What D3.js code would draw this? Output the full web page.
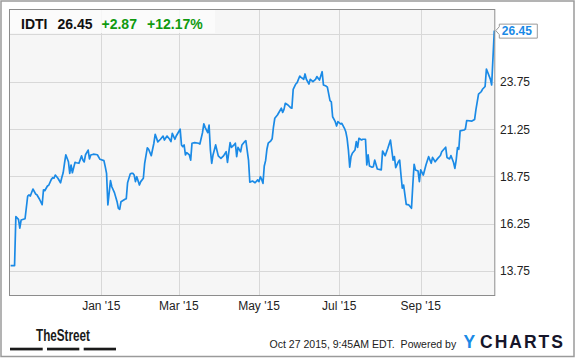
<!DOCTYPE html>
<html>
<head>
<meta charset="utf-8">
<script src="https://cdn.jsdelivr.net/npm/d3@7"></script>
<style>
  html, body { margin: 0; padding: 0; background: #fff; }
  svg { display: block; font-family: "Liberation Sans", Arial, sans-serif; }
</style>
</head>
<body>
<svg id="chart" width="575" height="358"></svg>
<script>
// ---- data (days since 2015-01-01, closing prices) ----
const days = [-69,-66,-65,-63,-62,-61,-58,-56,-55,-54,-52,-50,-49,-47,-45,-44,-43,-41,-40,-38,-37,-36,-35,-33,-31,-30,-29,-28,-27,-25,-24,-23,-22,-20,-19,-17,-15,-14,-13,-12,-10,-9,-8,-6,-3,-1,
  2,3,4,5,7,8,10,12,13,14,15,18,19,20,22,23,24,25,26,27,29,30,32,33,35,36,38,40,41,43,45,47,48,50,52,53,54,56,57,60,61,62,63,64,65,67,68,69,71,74,75,77,78,79,81,82,83,84,85,87,89,91,93,95,96,98,99,
  101,102,103,104,106,107,109,110,112,113,115,117,119,120,121,122,123,124,125,126,127,129,130,131,132,134,135,137,138,139,140,142,144,145,146,148,149,151,152,154,155,156,158,159,161,163,164,166,168,169,171,172,174,175,176,178,179,180,182,183,185,186,187,188,189,190,191,193,194,195,196,198,199,
  201,202,203,204,206,207,208,210,213,214,216,218,220,222,223,224,226,227,228,229,230,232,234,236,237,238,239,241,242,243,245,247,249,251,252,254,256,258,259,262,263,265,266,268,269,270,271,272,273,276,277,278,282,284,285,287,289,290,292,293,296,297,299];
const prices = [14.03,14.03,16.62,16.48,16.01,16.44,16.51,17.71,17.77,17.71,18.08,17.82,17.78,17.54,17.25,18.03,17.99,18.24,18.28,18.59,18.68,18.65,18.82,18.65,18.41,18.70,18.94,19.44,19.89,19.52,18.91,19.35,18.94,19.49,19.47,19.44,19.83,19.61,19.51,19.89,20.14,19.67,19.88,19.92,19.89,19.65,
  19.58,19.26,18.91,17.24,18.52,18.20,17.89,17.41,17.06,17.01,17.41,17.54,17.57,18.41,18.87,18.91,18.91,18.82,18.47,18.73,18.29,18.47,18.65,19.44,20.26,20.18,19.84,20.50,20.97,20.57,20.71,20.88,20.67,20.88,20.71,20.58,21.02,20.71,20.88,21.24,20.41,20.32,20.41,19.88,20.00,19.88,19.61,20.50,20.53,20.50,20.46,21.06,21.52,21.34,21.06,21.46,20.14,19.44,19.88,20.41,19.83,19.70,19.83,20.05,19.49,20.53,20.28,
  20.41,20.50,19.79,20.28,20.05,20.41,20.58,20.63,19.61,18.44,18.50,18.41,18.56,18.47,18.73,18.59,18.38,19.30,19.58,20.18,20.50,20.63,20.74,21.37,21.82,21.99,22.11,22.35,22.13,22.29,22.61,22.52,22.38,22.35,23.35,23.63,23.70,24.05,23.98,23.88,24.16,23.88,23.63,23.88,23.75,23.88,24.02,23.84,24.28,23.58,23.52,23.46,22.75,22.69,21.90,21.64,21.41,21.64,21.52,21.55,21.29,21.11,20.76,20.14,19.23,19.79,19.97,20.14,20.58,20.28,20.76,20.67,20.71,
  20.71,19.35,19.88,19.30,19.23,19.26,19.61,19.14,19.09,20.09,19.84,20.23,20.67,19.61,19.79,19.21,19.52,19.61,18.82,18.12,18.29,17.27,17.24,17.06,18.29,19.39,19.09,19.03,18.47,19.09,18.82,19.35,19.79,19.44,19.75,19.52,19.70,19.85,20.05,20.29,19.75,19.67,19.85,19.48,19.17,19.61,20.27,20.18,21.15,21.20,21.25,21.70,21.67,21.75,22.26,23.09,23.22,23.35,23.50,24.42,23.89,23.58,26.45];

const xTickDates = ["2015-01-01","2015-03-01","2015-05-01","2015-07-01","2015-09-01"];
const xTickLabels = ["Jan '15","Mar '15","May '15","Jul '15","Sep '15"];
const yTicks = [13.75, 16.25, 18.75, 21.25, 23.75, 26.25];
const ticker = "IDTI";
const lastPrice = "26.45";
const change = "+2.87";
const changePct = "+12.17%";
const stamp = "Oct 27 2015, 9:45AM EDT.  Powered by";

// ---- layout ----
const svg = d3.select("#chart");
const P = { left: 10, right: 494.3, top: 10, bottom: 295 };
const base = new Date(2015, 0, 1);
const toDate = d => d3.timeHour.offset(base, Math.round(d * 24));
const parse = d3.timeParse("%Y-%m-%d");

const x = d3.scaleTime()
  .domain([toDate(-69.46), toDate(299)])
  .range([P.left, P.right]);
const y = d3.scaleLinear()
  .domain([12.48, 27.54])
  .range([P.bottom, P.top]);

const data = days.map((d, i) => ({ date: toDate(d), v: prices[i] }));

// outer frame
svg.append("rect").attr("x", 1).attr("y", 1).attr("width", 573).attr("height", 355.5)
  .attr("fill", "#fff").attr("stroke", "#9a9a9a").attr("stroke-width", 1.5);

// plot background
svg.append("rect").attr("x", P.left).attr("y", P.top)
  .attr("width", P.right - P.left).attr("height", P.bottom - P.top)
  .attr("fill", "#f6f6f6");

// gridlines
const grid = svg.append("g").attr("stroke", "#d8d8d8").attr("stroke-width", 1);
yTicks.forEach(t => {
  const yy = Math.round(y(t)) + 0.5;
  grid.append("line").attr("x1", P.left).attr("x2", P.right).attr("y1", yy).attr("y2", yy);
});
xTickDates.forEach(t => {
  const xx = Math.round(x(parse(t))) + 0.5;
  grid.append("line").attr("x1", xx).attr("x2", xx).attr("y1", P.top).attr("y2", P.bottom);
});

// header box
svg.append("rect").attr("x", P.left).attr("y", P.top).attr("width", 205).attr("height", 23)
  .attr("fill", "#fbfbfb").attr("fill-opacity", 0.85);
const hdr = svg.append("text").attr("y", 28.5).attr("font-size", 14).attr("font-weight", "bold");
hdr.append("tspan").attr("x", 21).attr("fill", "#111").text(ticker);
hdr.append("tspan").attr("x", 57.5).attr("fill", "#111").text(lastPrice);
hdr.append("tspan").attr("x", 101.5).attr("fill", "#109a10").text(change);
hdr.append("tspan").attr("x", 147).attr("fill", "#109a10").text(changePct);

// price line
const line = d3.line().x(d => x(d.date)).y(d => y(d.v));
svg.append("path").datum(data).attr("d", line)
  .attr("fill", "none").attr("stroke", "#1a8ae6").attr("stroke-width", 1.7)
  .attr("stroke-linejoin", "round");

// plot border
svg.append("rect").attr("x", P.left - 0.5).attr("y", P.top - 0.5)
  .attr("width", P.right - P.left + 1).attr("height", P.bottom - P.top + 1)
  .attr("fill", "none").attr("stroke", "#8c8c8c").attr("stroke-width", 1);

// y tick labels
const lastY = y(prices[prices.length - 1]);
svg.append("g").selectAll("text")
  .data(yTicks.filter(t => Math.abs(y(t) - lastY) > 10))
  .join("text")
  .attr("x", 500).attr("y", t => y(t) + 4.5)
  .attr("font-size", 12).attr("fill", "#222")
  .text(t => d3.format(".2f")(t));

// x tick labels
svg.append("g").selectAll("text")
  .data(xTickDates)
  .join("text")
  .attr("x", t => x(parse(t))).attr("y", 309.5)
  .attr("text-anchor", "middle").attr("font-size", 12).attr("fill", "#222")
  .text((t, i) => xTickLabels[i]);

// last price flag
const lx = x(data[data.length - 1].date) + 1.5;
svg.append("path")
  .attr("d", `M${lx},${lastY} L${lx + 3.5},${lastY - 4} L${lx + 3.5},${lastY - 6.5} L${lx + 41.5},${lastY - 6.5} L${lx + 41.5},${lastY + 7.5} L${lx + 3.5},${lastY + 7.5} L${lx + 3.5},${lastY + 4} Z`)
  .attr("fill", "#fff").attr("stroke", "#9a9a9a").attr("stroke-width", 1);
svg.append("text").attr("x", lx + 6).attr("y", lastY + 4.8)
  .attr("font-size", 12).attr("font-weight", "bold").attr("fill", "#1a8ae6")
  .text(lastPrice);

// footer: TheStreet logo
svg.append("text").attr("x", 36).attr("y", 341)
  .attr("font-family", "'Liberation Sans Narrow', 'Arial Narrow', 'Liberation Sans', sans-serif")
  .attr("font-size", 16).attr("font-weight", "bold").attr("fill", "#1a1a1a")
  .attr("textLength", 54).attr("lengthAdjust", "spacingAndGlyphs")
  .text("TheStreet");
[[10, 42.7], [47, 79.3], [83.7, 116]].forEach(([a, b]) => {
  svg.append("rect").attr("x", a).attr("y", 347.7).attr("width", b - a).attr("height", 2.7).attr("fill", "#1a1a1a");
});

// footer: timestamp + YCHARTS (timestamp font sized to fit its slot)
const st = svg.append("text").attr("x", 269.5).attr("y", 347.5)
  .attr("font-size", 12).attr("fill", "#222")
  .attr("xml:space", "preserve")
  .text(stamp);
const natural = st.node().getComputedTextLength();
st.attr("font-size", Math.min(12, 12 * 187 / natural));
svg.append("text").attr("x", 463.5).attr("y", 347.7)
  .attr("font-size", 17.5).attr("font-weight", "bold").attr("fill", "#1a8ae6")
  .text("Y");
svg.append("text").attr("x", 480).attr("y", 347.7)
  .attr("font-size", 17.5).attr("font-weight", "bold").attr("fill", "#15152a")
  .attr("letter-spacing", 2)
  .text("CHARTS");
</script>
</body>
</html>
